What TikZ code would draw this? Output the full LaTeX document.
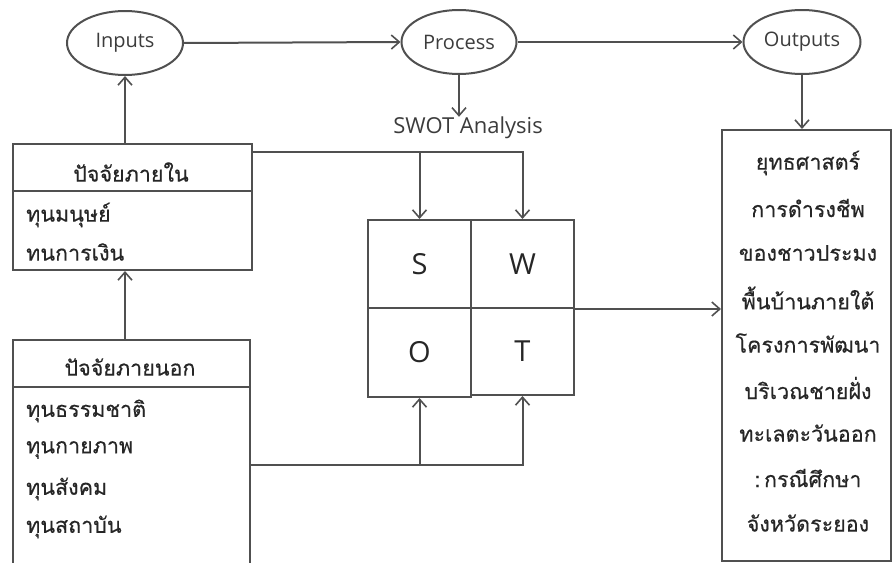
\documentclass[tikz,border=0pt]{standalone}
\usepackage{fontspec}
\setmainfont{Open Sans}
\newfontfamily\thaifont[Script=Thai,FakeBold=0.4]{Loma}
\usetikzlibrary{arrows.meta,shapes.geometric}
\definecolor{ln}{RGB}{80,80,80}
\definecolor{tx}{RGB}{60,60,60}
\tikzset{
  lineS/.style={draw=ln,line width=2pt},
  arr/.style={lineS,-{Straight Barb[length=8pt,width=14pt,line width=1.6pt]}},
  ell/.style={ellipse,lineS,inner sep=0pt,font=\fontsize{20}{24}\selectfont,text=tx},
  boxS/.style={rectangle,lineS,inner sep=0pt},
  thai/.style={font=\thaifont\fontsize{21.5}{24}\selectfont,text=black!85,inner sep=0pt},
  cell/.style={rectangle,lineS,inner sep=0pt,font=\fontsize{29}{32}\selectfont,text=black!85},
}
\begin{document}
\begin{tikzpicture}[x=1pt,y=-1pt]
\useasboundingbox (0,0) rectangle (893,562);
% ellipses
\node[ell,minimum width=116pt,minimum height=64pt] (inputs) at (125,43) {Inputs};
\node[ell,minimum width=115pt,minimum height=64pt] (process) at (459,42) {Process};
\node[ell,minimum width=117pt,minimum height=64pt] (outputs) at (802,42) {Outputs};
\node[font=\fontsize{22}{26}\selectfont,text=tx,inner sep=0pt] (swotl) at (468,128) {SWOT Analysis};
% inner factors box
\node[boxS,minimum width=239pt,minimum height=126pt] (inbox) at (132.5,207) {};
\draw[lineS] (13,191) -- (252,191);
\node[thai] (inh) at (131,172) {ปัจจัยภายใน};
\node[thai,anchor=west] (in1) at (26,215) {ทุนมนุษย์};
\node[thai,anchor=west] (in2) at (26,252) {ทนการเงิน};
% outer factors box
\node[boxS,minimum width=237pt,minimum height=240pt] (outbox) at (131.5,460) {};
\draw[lineS] (13,387) -- (250,387);
\node[thai] (outh) at (130,367) {ปัจจัยภายนอก};
\node[thai,anchor=west] (o1) at (26,411) {ทุนธรรมชาติ};
\node[thai,anchor=west] (o2) at (26,450) {ทุนกายภาพ};
\node[thai,anchor=west] (o3) at (26,489) {ทุนสังคม};
\node[thai,anchor=west] (o4) at (26,527) {ทุนสถาบัน};
% SWOT grid
\node[cell,minimum width=103pt,minimum height=88pt] (S) at (419.5,264) {S};
\node[cell,minimum width=103pt,minimum height=88pt] (W) at (522.5,264) {W};
\node[cell,minimum width=103pt,minimum height=89pt] (O) at (419.5,352.5) {O};
\node[cell,minimum width=103pt,minimum height=87pt] (T) at (522.5,351.5) {T};
% output box
\node[boxS,minimum width=169pt,minimum height=431pt] (res) at (806.5,345.5) {};
\foreach \t [count=\i from 0] in {ยุทธศาสตร์,การดำรงชีพ,ของชาวประมง,พื้นบ้านภายใต้,โครงการพัฒนา,บริเวณชายฝั่ง,ทะเลตะวันออก,{:\,กรณีศึกษา},จังหวัดระยอง}
  \node[thai] (r\i) at (808,{163+45*\i}) {\t};
% connectors
\draw[arr] (inputs.east) -- (process.west);
\draw[arr] (process.east) -- (outputs.west);
\draw[arr] (process.south) -- (process.south |- swotl.north);
\draw[arr] (outputs.south) -- (outputs.south |- res.north);
\draw[arr] (inputs.south |- inbox.north) -- (inputs.south);
\draw[arr] (inputs.south |- outbox.north) -- (inputs.south |- inbox.south);
\coordinate (itap) at ([yshift=-9pt]inbox.north east);
\draw[arr] (itap) -| (W.north);
\draw[arr] (S.north |- itap) -- (S.north);
\coordinate (otap) at ([yshift=-126pt]outbox.north east);
\draw[arr] (otap) -| (T.south);
\draw[arr] (O.south |- otap) -- (O.south);
\draw[arr] (W.south east) -- (res.west |- W.south east);
\end{tikzpicture}
\end{document}
